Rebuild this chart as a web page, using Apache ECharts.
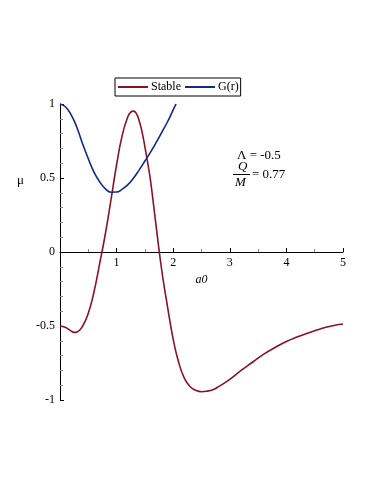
<!DOCTYPE html>
<html><head><meta charset="utf-8">
<script src="https://cdn.jsdelivr.net/npm/echarts@6/dist/echarts.min.js"></script>
<style>html,body{margin:0;padding:0;background:#fff}#c{width:374px;height:484px}</style>
</head><body><div id="c"></div>
<script>
var xTicks = [0, 1, 2, 3, 4, 5];
var yTicks = [-1, -0.5, 0, 0.5, 1];
var stableX = [0,0.1,0.2,0.25,0.3,0.4,0.5,0.6,0.7,0.8,0.9,1.0,1.1,1.2,1.25,1.3,1.35,1.4,1.45,1.5,1.55,1.6,1.7,1.8,1.9,2.0,2.1,2.2,2.3,2.4,2.5,2.6,2.7,2.8,3.0,3.2,3.4,3.6,3.8,4.0,4.2,4.4,4.6,4.8,5.0];
var stableY = [-0.50,-0.51,-0.535,-0.543,-0.54,-0.50,-0.414,-0.27,-0.08,0.12,0.35,0.59,0.79,0.915,0.945,0.952,0.935,0.885,0.81,0.71,0.60,0.48,0.17,-0.13,-0.37,-0.59,-0.75,-0.855,-0.91,-0.935,-0.944,-0.94,-0.93,-0.91,-0.86,-0.80,-0.745,-0.69,-0.645,-0.605,-0.573,-0.545,-0.52,-0.50,-0.487];
var gX = [0,0.1,0.2,0.3,0.4,0.5,0.6,0.7,0.8,0.9,1.0,1.1,1.2,1.3,1.4,1.5,1.6,1.7,1.8,1.9,2.0,2.05];
var gY = [1.0,0.98,0.925,0.84,0.73,0.63,0.54,0.475,0.428,0.404,0.405,0.425,0.455,0.50,0.555,0.615,0.675,0.74,0.81,0.88,0.96,1.0];

function pairs(xs, ys){ return xs.map(function(x,i){return [x, ys[i]];}); }

var chart = echarts.init(document.getElementById('c'));
var serif = '"Liberation Serif", "DejaVu Serif", serif';
chart.setOption({
  animation: false,
  backgroundColor: '#fff',
  textStyle: {fontFamily: serif},
  legend: {
    left: 115, top: 78,
    data: ['Stable', 'G(r)'],
    icon: 'rect', itemWidth: 30, itemHeight: 2, itemGap: 4,
    borderColor: '#000', borderWidth: 1, padding: [3, 2, 3, 3],
    textStyle: {fontFamily: serif, fontSize: 12, color: '#000', padding: [0,0,0,-2]}
  },
  grid: {left: 60, right: 31, top: 104, bottom: 84},
  xAxis: {
    type: 'value', min: xTicks[0], max: xTicks[xTicks.length-1], interval: 1,
    offset: -148,
    axisLine: {onZero: false, lineStyle: {color: '#000', width: 1}},
    axisTick: {show: true, inside: true, length: 4, lineStyle: {color: '#000'}},
    minorTick: {show: true, splitNumber: 2, length: 3, lineStyle: {color: '#888'}},
    splitLine: {show: false},
    axisLabel: {color: '#000', fontFamily: serif, fontSize: 12, margin: 5,
      formatter: function(v){ return v === 0 ? '' : String(v); }},
    name: 'a0', nameLocation: 'middle', nameGap: 21,
    nameTextStyle: {fontStyle: 'italic', fontFamily: serif, fontSize: 12, color: '#000'}
  },
  yAxis: {
    type: 'value', min: yTicks[0], max: yTicks[yTicks.length-1], interval: 0.5,
    axisLine: {show: true, onZero: false, lineStyle: {color: '#000', width: 1}},
    axisTick: {show: true, inside: true, length: 4, lineStyle: {color: '#000'}},
    minorTick: {show: true, splitNumber: 5, length: 3, lineStyle: {color: '#888'}},
    splitLine: {show: false},
    axisLabel: {color: '#000', fontFamily: serif, fontSize: 12, margin: 5,
      formatter: function(v){ return String(v); }}
  },
  series: [
    {name: 'Stable', type: 'line', data: pairs(stableX, stableY), smooth: 0.5, showSymbol: false,
     lineStyle: {color: '#8a1225', width: 1.6}, itemStyle: {color: '#8a1225'}},
    {name: 'G(r)', type: 'line', data: pairs(gX, gY), smooth: 0.5, showSymbol: false,
     lineStyle: {color: '#13288c', width: 1.6}, itemStyle: {color: '#13288c'}}
  ],
  graphic: [
    {type: 'text', left: 17, top: 174, style: {text: 'μ', font: '13px ' + serif, fill: '#000'}},
    {type: 'text', left: 237, top: 149, style: {text: 'Λ = -0.5', font: '13px ' + serif, fill: '#000'}},
    {type: 'text', left: 238, top: 160, style: {text: 'Q', font: 'italic 13px ' + serif, fill: '#000'}},
    {type: 'line', shape: {x1: 233, y1: 174.5, x2: 250, y2: 174.5}, style: {stroke: '#000', lineWidth: 1}},
    {type: 'text', left: 235, top: 176, style: {text: 'M', font: 'italic 13px ' + serif, fill: '#000'}},
    {type: 'text', left: 252, top: 168, style: {text: '= 0.77', font: '13px ' + serif, fill: '#000'}}
  ]
});
</script></body></html>
